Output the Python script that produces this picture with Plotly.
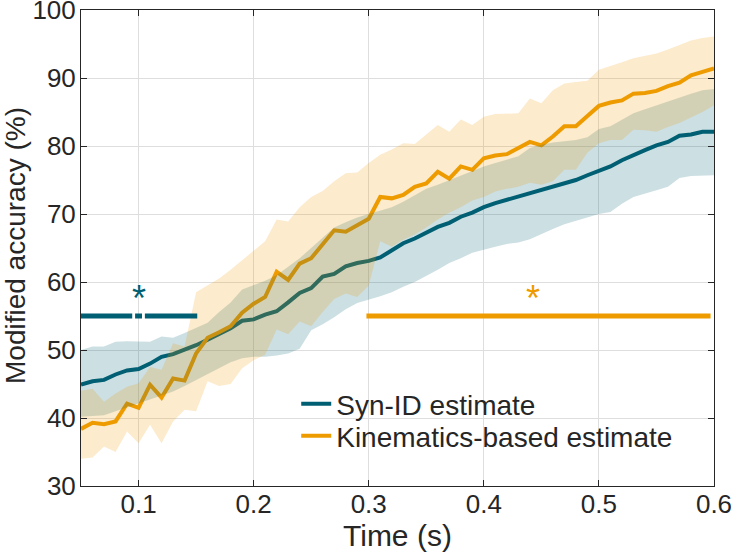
import plotly.graph_objects as go

# ---------------- data ----------------
time_s = [round(0.05 + 0.01 * i, 2) for i in range(56)]

syn_mean = [44.9, 45.4, 45.6, 46.4, 47.0, 47.2, 48.0, 49.0, 49.4, 50.0,
            50.7, 51.5, 52.3, 53.2, 54.3, 54.5, 55.2, 55.7, 57.0, 58.4,
            59.1, 60.8, 61.2, 62.3, 62.8, 63.1, 63.6, 64.6, 65.7, 66.4,
            67.3, 68.1, 68.7, 69.6, 70.2, 71.0, 71.6, 72.1, 72.5, 73.0,
            73.5, 74.1, 74.6, 75.0, 75.7, 76.4, 77.0, 77.9, 78.7, 79.4,
            80.1, 80.6, 81.5, 81.7, 82.1, 82.1]
syn_upper = [50.0, 50.5, 50.5, 51.2, 51.3, 51.2, 51.2, 52.0, 51.8, 52.5,
             53.2, 54.0, 55.6, 57.0, 58.9, 59.5, 60.2, 61.0, 62.2, 63.5,
             65.0, 66.5, 68.0, 68.8, 69.5, 70.0, 70.5, 71.0, 71.8, 72.8,
             73.7, 74.3, 75.0, 75.7, 76.3, 77.0, 77.5, 78.0, 78.5, 79.7,
             80.2, 80.5, 80.7, 80.9, 81.3, 82.5, 82.9, 83.8, 84.8, 85.4,
             86.0, 86.6, 87.2, 87.7, 88.2, 88.4]
syn_lower = [40.2, 40.3, 40.4, 41.0, 41.6, 42.2, 42.8, 43.3, 43.9, 44.7,
             45.6, 46.5, 47.3, 48.2, 48.8, 49.0, 49.0, 49.2, 49.5, 50.2,
             52.9, 53.8, 54.8, 56.0, 56.9, 57.4, 57.9, 58.5, 59.3, 60.0,
             60.9, 61.8, 62.8, 63.5, 64.3, 64.7, 65.2, 65.6, 65.8, 66.3,
             67.0, 67.8, 68.5, 69.0, 69.5, 70.0, 70.3, 71.5, 72.5, 73.0,
             73.5, 74.0, 75.3, 75.6, 75.7, 75.7]

kin_mean = [38.4, 39.3, 39.1, 39.5, 42.1, 41.5, 44.9, 43.0, 45.8, 45.5,
            49.5, 51.8, 52.6, 53.5, 55.5, 56.8, 57.8, 61.5, 60.3, 62.7,
            63.5, 65.5, 67.6, 67.4, 68.3, 69.3, 72.5, 72.3, 72.8, 74.0,
            74.5, 76.2, 75.2, 77.0, 76.5, 78.2, 78.6, 78.8, 79.7, 80.6,
            80.1, 81.4, 82.9, 82.9, 84.4, 85.9, 86.4, 86.7, 87.7, 87.8,
            88.1, 88.8, 89.3, 90.4, 90.9, 91.4]
kin_upper = [44.0, 44.3, 42.4, 43.6, 44.6, 45.1, 47.5, 47.1, 51.0, 50.5,
             58.5, 59.5, 60.5, 61.8, 63.2, 64.5, 66.0, 69.2, 68.9, 71.0,
             72.5, 73.4, 74.8, 76.0, 76.1, 77.5, 78.7, 79.5, 80.4, 80.3,
             81.7, 83.1, 82.1, 83.9, 83.1, 84.3, 84.7, 84.8, 84.8, 87.0,
             86.3, 88.2, 89.2, 89.4, 89.6, 91.2, 91.7, 92.3, 92.9, 93.2,
             93.6, 94.2, 94.9, 95.5, 95.9, 96.1]
kin_lower = [34.0, 34.2, 35.8, 35.0, 38.0, 36.3, 39.0, 36.3, 39.5, 41.2,
             41.0, 45.4, 44.7, 45.0, 47.3, 48.5, 49.3, 53.0, 52.3, 54.2,
             53.5, 55.6, 57.5, 58.3, 57.8, 59.5, 66.0, 65.2, 66.2, 67.0,
             68.0, 69.2, 70.2, 71.0, 72.0, 72.5, 73.3, 73.7, 74.0, 74.6,
             74.3, 74.8, 76.5, 76.5, 79.0, 80.4, 80.9, 80.9, 82.4, 82.3,
             82.1, 82.8, 83.4, 84.2, 85.0, 86.0]

# significance windows (start, end) in seconds
syn_sig_start = [0.05, 0.097, 0.1055]
syn_sig_end = [0.0945, 0.103, 0.151]
kin_sig_start = [0.298]
kin_sig_end = [0.597]
sig_level = 55
syn_star_time = 0.1
kin_star_time = 0.443
star_level = 58.8

series_names = ["Syn-ID estimate", "Kinematics-based estimate"]
x_title = "Time (s)"
y_title = "Modified accuracy (%)"
x_ticks = [0.1, 0.2, 0.3, 0.4, 0.5, 0.6]
y_ticks = [30, 40, 50, 60, 70, 80, 90, 100]

TEAL = "#005f73"
ORANGE = "#ee9b00"
TEXT = "#262626"
FONT = "Arial, Liberation Sans, Helvetica, sans-serif"

fig = go.Figure()

# mean lines (legend entries, each in its own legend for exact placement)
fig.add_trace(go.Scatter(x=time_s, y=syn_mean, mode="lines", name=series_names[0],
                         line=dict(color=TEAL, width=4), legend="legend"))
fig.add_trace(go.Scatter(x=time_s, y=kin_mean, mode="lines", name=series_names[1],
                         line=dict(color=ORANGE, width=4), legend="legend2"))

# shaded bands drawn over lines
fig.add_trace(go.Scatter(x=time_s + time_s[::-1], y=syn_upper + syn_lower[::-1],
                         fill="toself", fillcolor="rgba(0,95,115,0.2)",
                         line=dict(width=0), mode="lines", hoverinfo="skip",
                         showlegend=False))
fig.add_trace(go.Scatter(x=time_s + time_s[::-1], y=kin_upper + kin_lower[::-1],
                         fill="toself", fillcolor="rgba(238,155,0,0.2)",
                         line=dict(width=0), mode="lines", hoverinfo="skip",
                         showlegend=False))


def seg_xy(starts, ends, level):
    xs, ys = [], []
    for s, e in zip(starts, ends):
        xs += [s, e, None]
        ys += [level, level, None]
    return xs, ys


sx, sy = seg_xy(syn_sig_start, syn_sig_end, sig_level)
fig.add_trace(go.Scatter(x=sx, y=sy, mode="lines", line=dict(color=TEAL, width=5),
                         showlegend=False, hoverinfo="skip"))
kx, ky = seg_xy(kin_sig_start, kin_sig_end, sig_level)
fig.add_trace(go.Scatter(x=kx, y=ky, mode="lines", line=dict(color=ORANGE, width=5),
                         showlegend=False, hoverinfo="skip"))

fig.add_annotation(x=syn_star_time, y=star_level, text="*", showarrow=False,
                   font=dict(family=FONT, size=36, color=TEAL), yshift=-8)
fig.add_annotation(x=kin_star_time, y=star_level, text="*", showarrow=False,
                   font=dict(family=FONT, size=36, color=ORANGE), yshift=-8)

# axis titles as annotations for precise placement
fig.add_annotation(xref="paper", yref="paper", x=0.5, y=0, yshift=-49,
                   text=x_title, showarrow=False, yanchor="middle",
                   font=dict(family=FONT, size=30, color=TEXT))
fig.add_annotation(xref="paper", yref="paper", x=0, xshift=-66, y=0.5, yshift=2,
                   text=y_title, showarrow=False, textangle=-90, xanchor="center",
                   font=dict(family=FONT, size=28, color=TEXT))

axis_common = dict(showline=True, linecolor=TEXT, linewidth=1, mirror="ticks",
                   ticks="inside", ticklen=6, tickcolor=TEXT, showgrid=True,
                   gridcolor="#dedede", gridwidth=1, zeroline=False,
                   automargin=False, ticklabeloverflow="allow",
                   tickfont=dict(family=FONT, size=26, color=TEXT))

fig.update_xaxes(range=[0.05, 0.6], tickvals=x_ticks,
                 ticktext=[f"{v:g}" for v in x_ticks],
                 ticklabelstandoff=-5, **axis_common)
fig.update_yaxes(range=[30, 100], tickvals=y_ticks,
                 ticktext=[str(v) for v in y_ticks],
                 ticklabelstandoff=-1, **axis_common)

leg_common = dict(xanchor="left", yanchor="middle", bgcolor="rgba(0,0,0,0)",
                  borderwidth=0, font=dict(family=FONT, size=28, color=TEXT),
                  itemwidth=30)
fig.update_layout(
    width=732, height=556,
    margin=dict(l=81, r=18, t=10, b=70),
    plot_bgcolor="white", paper_bgcolor="white",
    font=dict(family=FONT, color=TEXT),
    legend=dict(x=0.34, y=0.172, **leg_common),
    legend2=dict(x=0.34, y=0.105, **leg_common),
)

fig.write_html("out.html",
               config={"displayModeBar": False},
               post_script="document.body.style.margin='0';"
                           "document.body.style.overflow='hidden';")
